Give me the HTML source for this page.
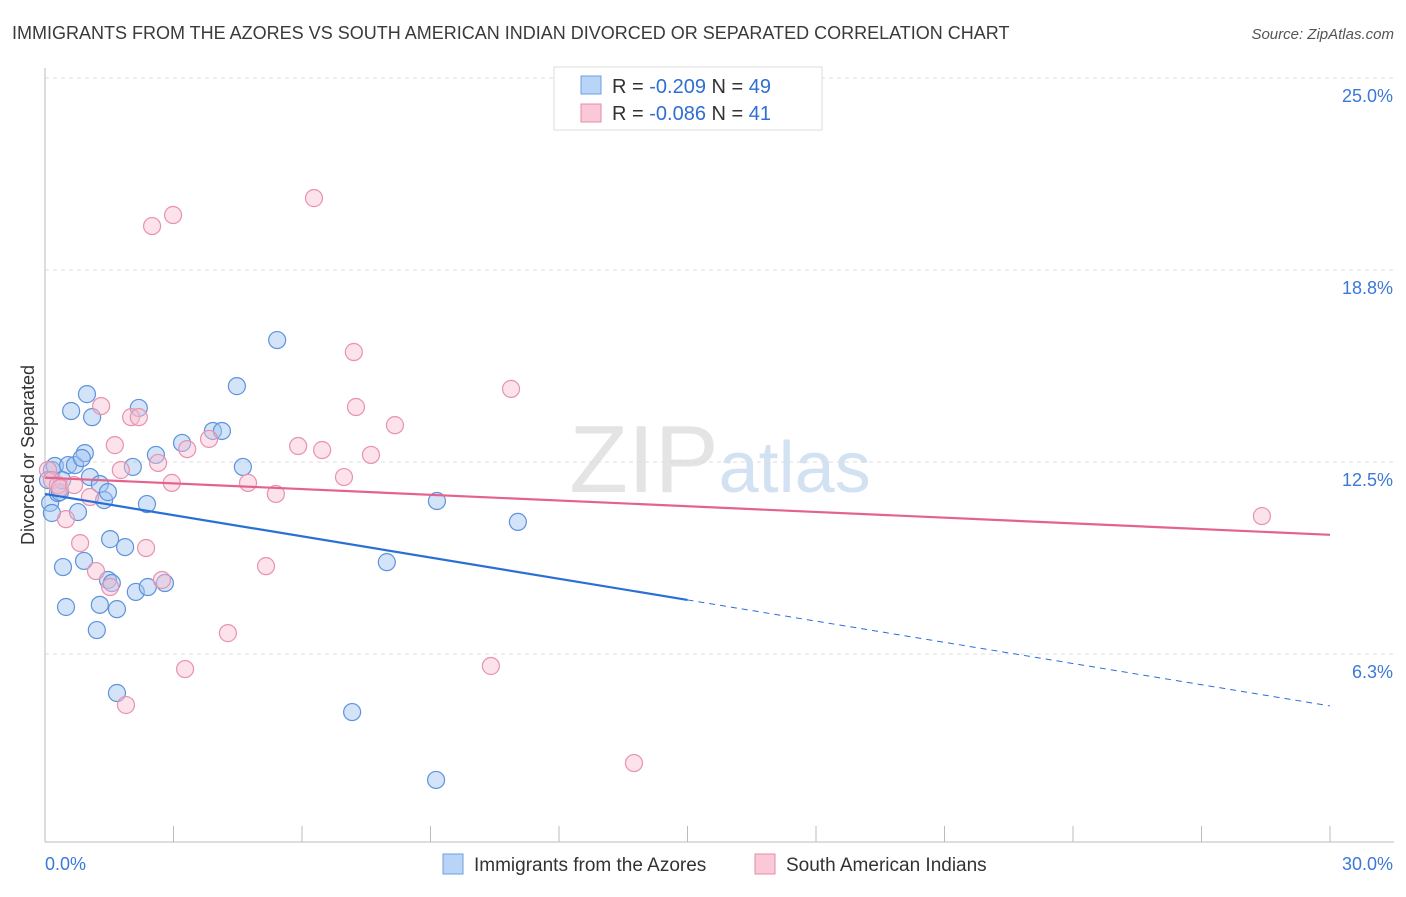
<!DOCTYPE html>
<html><head><meta charset="utf-8"><style>
body{margin:0;background:#fff;font-family:"Liberation Sans",sans-serif}
svg text{font-family:"Liberation Sans",sans-serif}
</style></head><body>
<svg id="c" width="1406" height="892" xmlns="http://www.w3.org/2000/svg">
<text x="12" y="39" font-size="18" fill="#3a3a3a">IMMIGRANTS FROM THE AZORES VS SOUTH AMERICAN INDIAN DIVORCED OR SEPARATED CORRELATION CHART</text>
<text x="1394" y="39" font-size="15" fill="#555" font-style="italic" text-anchor="end">Source: ZipAtlas.com</text>
<text x="34" y="455" font-size="18" fill="#333" text-anchor="middle" transform="rotate(-90 34 455)">Divorced or Separated</text>
<text x="720" y="492" font-size="96" fill="#e4e4e4" text-anchor="middle" font-family="Liberation Serif">ZIP<tspan fill="#d3e2f3" font-family="Liberation Sans" font-size="72">atlas</tspan></text>
<g id="grid"></g><g id="axes"></g><g id="pts"></g><g id="trend"></g>
<g>
<rect x="554" y="67" width="268" height="63" fill="#fff" stroke="#ddd"/>
<rect x="581" y="76" width="20" height="18" fill="#b8d4f6" stroke="#6d9fe0"/>
<text x="612" y="93" font-size="20" fill="#333">R = <tspan fill="#2f6fd1">-0.209</tspan>   N = <tspan fill="#2f6fd1">49</tspan></text>
<rect x="581" y="104" width="20" height="18" fill="#f9c9d7" stroke="#e88aa7"/>
<text x="612" y="120" font-size="20" fill="#333">R = <tspan fill="#2f6fd1">-0.086</tspan>   N =  <tspan fill="#2f6fd1">41</tspan></text>
</g>
<g>
<rect x="443" y="854" width="20" height="20" fill="#b8d4f6" stroke="#6d9fe0"/>
<text x="474" y="871" font-size="19" fill="#333">Immigrants from the Azores</text>
<rect x="755" y="854" width="20" height="20" fill="#f9c9d7" stroke="#e88aa7"/>
<text x="786" y="871" font-size="19" fill="#333">South American Indians</text>
</g>
</svg>
<script>
const yTicks=[25,18.75,12.5,6.25];
const yTickLabels=["25.0%","18.8%","12.5%","6.3%"];
const xTickLabels=["0.0%","30.0%"];
const blueX=[.16,.23,.12,.16,.30,.35,.42,.49,.54,.61,.70,.77,.91,.93,.98,.86,1.05,1.10,1.21,1.28,1.28,1.38,1.47,1.52,1.47,1.56,1.68,1.68,1.87,2.05,2.12,2.19,2.38,2.40,2.59,2.80,3.20,3.92,4.13,4.48,4.62,5.42,7.17,7.98,9.13,9.15,11.04,.07,.40];
const blueY=[12.24,12.37,11.17,10.84,11.49,11.52,9.08,7.78,12.40,14.16,12.40,10.87,9.28,12.79,14.71,12.63,12.01,13.96,7.03,11.78,7.85,11.26,11.52,9.99,8.66,8.56,7.71,4.98,9.73,12.34,8.27,14.26,11.13,8.43,12.73,8.56,13.12,13.51,13.51,14.97,12.34,16.47,4.36,9.24,2.15,11.23,10.55,11.91,11.91];
const pinkX=[.07,.16,.30,.35,.49,.68,.82,1.05,1.19,1.31,1.52,1.63,1.77,1.89,2.01,2.19,2.36,2.50,2.64,2.73,2.96,2.99,3.27,3.32,3.83,4.27,4.74,5.16,5.39,5.91,6.28,6.47,6.98,7.21,7.26,7.61,8.17,10.41,10.88,13.75,28.41];
const pinkY=[12.24,11.91,11.75,11.65,10.64,11.75,9.86,11.36,8.95,14.32,8.43,13.05,12.24,4.59,13.96,13.96,9.70,20.18,12.47,8.66,11.82,20.54,5.76,12.92,13.25,6.93,11.82,9.11,11.46,13.02,21.09,12.89,12.01,16.08,14.29,12.73,13.70,5.86,14.88,2.70,10.74];
const blueTrend=[11.46,4.56];
const pinkTrend=[11.99,10.13];
const blueSolidEnd=15.0;
const X0=45,X1=1330,YB=846,PPU=30.72;
const sx=v=>X0+v/30*(X1-X0), sy=v=>YB-v*PPU;
const NS="http://www.w3.org/2000/svg";
function mk(p,t,a){const e=document.createElementNS(NS,t);for(const k in a)e.setAttribute(k,a[k]);document.getElementById(p).appendChild(e);return e;}
yTicks.forEach((t,i)=>{
 const l=mk('grid','line',{x1:X0,x2:1394,y1:sy(t),y2:sy(t),stroke:'#ddd','stroke-dasharray':'4,4'});
 
 
 const tx=mk('grid','text',{x:1393,y:sy(t)+24,'font-size':18,fill:'#3b78d8','text-anchor':'end'});
 tx.textContent=yTickLabels[i];
 
 
});
let a=mk('axes','line',{x1:X0,x2:X0,y1:68,y2:842,stroke:'#bbb'});


a=mk('axes','line',{x1:X0,x2:1394,y1:842,y2:842,stroke:'#bbb'});


for(let i=0;i<=10;i++){const t=mk('axes','line',{x1:sx(i*3),x2:sx(i*3),y1:826,y2:842,stroke:'#bbb'});
 
 }
[[0,'start',45],[1,'end',1393]].forEach(([i,an,x])=>{const t=mk('axes','text',{x:x,y:870,'font-size':18,fill:'#3b78d8','text-anchor':an});t.textContent=xTickLabels[i];
 
 });
blueX.forEach((v,i)=>{const c=mk('pts','circle',{cx:sx(v),cy:sy(blueY[i]),r:8.5,fill:'rgba(160,195,240,0.45)',stroke:'#5d93dc','stroke-width':1.2});
 
 });
pinkX.forEach((v,i)=>{const c=mk('pts','circle',{cx:sx(v),cy:sy(pinkY[i]),r:8.5,fill:'rgba(248,190,208,0.45)',stroke:'#e892ae','stroke-width':1.2});
 
 });
const bAt=x=>blueTrend[0]+(blueTrend[1]-blueTrend[0])*x/30;
let t=mk('trend','line',{x1:sx(0),y1:sy(bAt(0)),x2:sx(blueSolidEnd),y2:sy(bAt(blueSolidEnd)),stroke:'#2a6fd6','stroke-width':2.2});


t=mk('trend','line',{x1:sx(blueSolidEnd),y1:sy(bAt(blueSolidEnd)),x2:sx(30),y2:sy(bAt(30)),stroke:'#2a6fd6','stroke-width':1,'stroke-dasharray':'6,5'});


t=mk('trend','line',{x1:sx(0),y1:sy(pinkTrend[0]),x2:sx(30),y2:sy(pinkTrend[1]),stroke:'#e4638d','stroke-width':2.2});


</script>
</body></html>
